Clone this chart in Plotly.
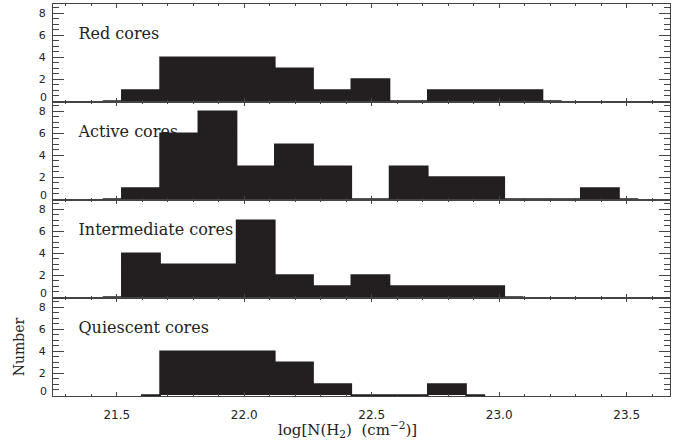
import plotly.graph_objects as go

# ---- data ----
bin_width = 0.15
panel_names = ["Red cores", "Active cores", "Intermediate cores", "Quiescent cores"]
# left edge of the first bin of each histogram (log N(H2))
first_bin_edge = [21.37, 21.37, 21.37, 21.52]
red_counts = [0, 1, 4, 4, 4, 3, 1, 2, 0, 1, 1, 1, 0]
active_counts = [0, 1, 6, 8, 3, 5, 3, 0, 3, 2, 2, 0, 0, 1, 0]
intermediate_counts = [0, 4, 3, 3, 7, 2, 1, 2, 1, 1, 1, 0]
quiescent_counts = [0, 4, 4, 4, 3, 1, 0, 0, 1, 0]
all_counts = [red_counts, active_counts, intermediate_counts, quiescent_counts]

x_tickvals = [21.5, 22.0, 22.5, 23.0, 23.5]
x_ticktext = ["21.5", "22.0", "22.5", "23.0", "23.5"]
y_tickvals = [0, 2, 4, 6, 8]
y_ticktext = ["", "2", "4", "6", "8"]   # "0" is placed separately, nudged up
y_zero_label = "0"
x_title = "log[N(H<sub>2</sub>)  (cm<sup>\u22122</sup>)]"
y_title = "Number"

# ---- styles ----
W, H = 692, 444
m_l, m_r, m_t, m_b = 53, 22, 4, 48
x_range = [21.25, 23.67]
y_range = [-0.08, 8.85]
fill_col = "#231f20"
axis_col = "#444444"
xtick_font = dict(family="DejaVu Sans", size=12, color="#222222")
ytick_font = dict(family="DejaVu Sans", size=11, color="#222222")
label_font = dict(family="DejaVu Serif", size=16, color="#222222")
title_font = dict(family="DejaVu Serif", size=14, color="#222222")

fig = go.Figure()
n = len(panel_names)
for i, (name, start, counts) in enumerate(zip(panel_names, first_bin_edge, all_counts)):
    suffix = "" if i == 0 else str(i + 1)
    xa, ya = "x" + suffix, "y" + suffix
    centers = [start + bin_width * (k + 0.5) for k in range(len(counts))]
    # panel label (drawn first so bars can cover it)
    fig.add_trace(go.Scatter(
        x=[x_range[0] + 0.10], y=[6], mode="text", text=[name],
        textposition="middle right", textfont=label_font,
        xaxis=xa, yaxis=ya, showlegend=False, hoverinfo="skip"))
    fig.add_trace(go.Scatter(
        x=centers, y=counts, mode="lines", line_shape="hvh",
        line=dict(color=fill_col, width=1.6), fill="tozeroy", fillcolor=fill_col,
        xaxis=xa, yaxis=ya, showlegend=False, hoverinfo="skip"))

    top = 1 - i / n
    bot = 1 - (i + 1) / n
    is_bottom = (i == n - 1)
    xkey = "xaxis" + suffix
    ykey = "yaxis" + suffix
    xaxis = dict(
        range=x_range, domain=[0, 1], anchor=ya,
        tickvals=x_tickvals, ticktext=x_ticktext,
        showticklabels=is_bottom, ticks="inside", ticklen=4, tickwidth=1,
        tickcolor=axis_col, showline=True, linecolor=axis_col, linewidth=1,
        mirror="allticks", showgrid=False, zeroline=False,
        minor=dict(dtick=0.1, tick0=21.0, ticks="inside", ticklen=2,
                   tickcolor=axis_col, showgrid=False),
        tickfont=xtick_font,
    )
    if i > 0:
        xaxis["matches"] = "x"
    if is_bottom:
        xaxis["ticklabelstandoff"] = 8
    yaxis = dict(
        range=y_range, domain=[bot, top], anchor=xa,
        tickvals=y_tickvals, ticktext=y_ticktext,
        ticks="inside", ticklen=11, tickwidth=1,
        tickcolor=axis_col, showline=True, linecolor=axis_col, linewidth=1,
        mirror="allticks", showgrid=False, zeroline=False,
        minor=dict(dtick=0.5, tick0=0, ticks="inside", ticklen=6,
                   tickcolor=axis_col, showgrid=False),
        tickfont=ytick_font, ticklabelstandoff=4,
    )
    if is_bottom:
        yaxis["title"] = dict(text=y_title, font=title_font, standoff=10)
    fig.layout[xkey] = xaxis
    fig.layout[ykey] = yaxis

    # zero tick label, nudged upward as in the original
    fig.add_annotation(
        text=y_zero_label, xref="paper", yref=ya, x=0, y=0,
        xanchor="right", yanchor="middle", xshift=-4, yshift=4,
        showarrow=False, font=ytick_font)

fig.add_annotation(
    text=x_title, xref="paper", yref="paper", x=0.478, y=0,
    yshift=-33, xanchor="center", yanchor="middle", showarrow=False,
    font=dict(family="DejaVu Serif", size=15, color="#222222"))

fig.update_layout(
    width=W, height=H,
    margin=dict(l=m_l, r=m_r, t=m_t, b=m_b),
    plot_bgcolor="white", paper_bgcolor="white",
    showlegend=False,
)

fig.write_html("out.html")
